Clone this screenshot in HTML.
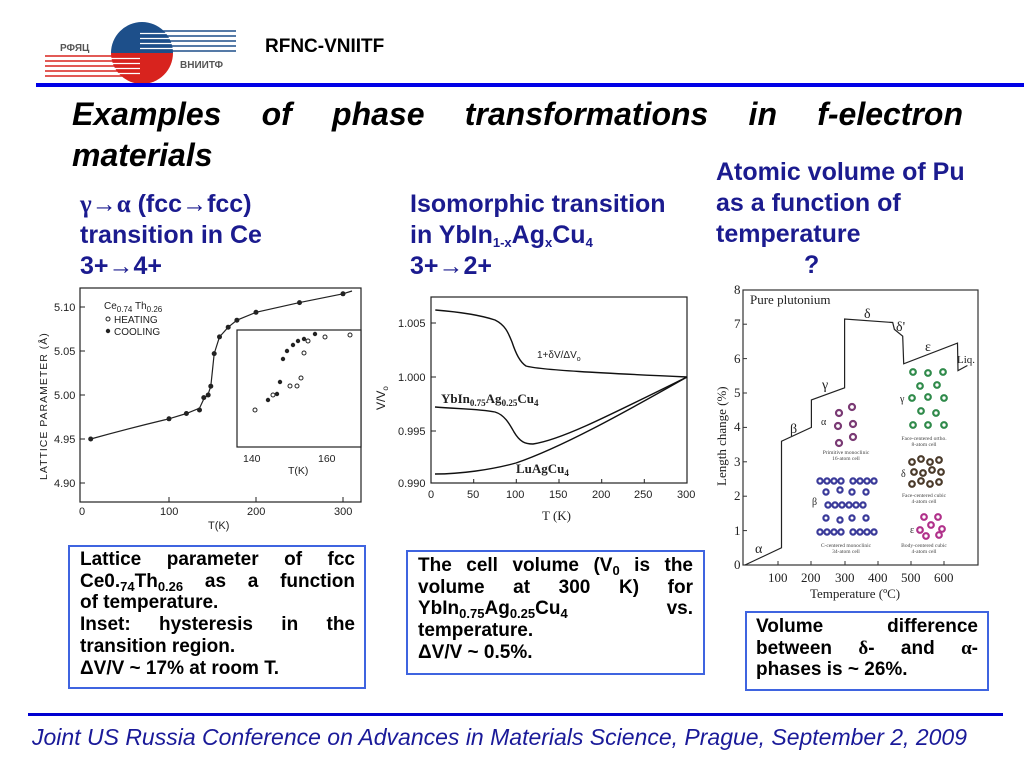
<!DOCTYPE html>
<html><head><meta charset="utf-8"><style>
body{margin:0;width:1024px;height:768px;background:#fff;position:relative;overflow:hidden;font-family:"Liberation Sans",Arial,sans-serif}
.a{position:absolute;white-space:nowrap}
.h{color:#1b1b8f;font-weight:bold;font-size:25px;line-height:31px}
.t{font-weight:bold;font-style:italic;font-size:32px;color:#000}
.box{position:absolute;border:2px solid #3f64e0;box-sizing:border-box}
.ln{font-weight:bold;font-size:19px;line-height:21.7px;color:#000;text-align:justify;text-align-last:justify;white-space:nowrap}
.ln.l{text-align-last:left}
.s{font-family:"Liberation Serif",serif}
sub{font-size:13px;vertical-align:-4px;line-height:0}
</style></head><body>
<svg width="1024" height="768" style="position:absolute;left:0;top:0" font-family="Liberation Serif,serif">
<path d="M111,53 A31,31 0 0 1 173,53 Z" fill="#1d4f8a"/>
<path d="M111,53 A31,31 0 0 0 173,53 Z" fill="#d8231e"/>
<g stroke="#1d4f8a" stroke-width="1.6"><line x1="150" y1="31" x2="236" y2="31"/><line x1="145" y1="36" x2="236" y2="36"/><line x1="145" y1="41" x2="236" y2="41"/><line x1="150" y1="46" x2="236" y2="46"/><line x1="155" y1="51" x2="236" y2="51"/></g>
<g stroke="#fff" stroke-width="1.2"><line x1="140" y1="33.5" x2="175" y2="33.5"/><line x1="140" y1="38.5" x2="175" y2="38.5"/><line x1="140" y1="43.5" x2="175" y2="43.5"/><line x1="140" y1="48.5" x2="175" y2="48.5"/></g>
<g stroke="#d8231e" stroke-width="1.6"><line x1="45" y1="56" x2="130" y2="56"/><line x1="45" y1="61" x2="138" y2="61"/><line x1="45" y1="66" x2="138" y2="66"/><line x1="45" y1="71" x2="133" y2="71"/><line x1="45" y1="76" x2="128" y2="76"/></g>
<g stroke="#fff" stroke-width="1.2"><line x1="110" y1="58.5" x2="140" y2="58.5"/><line x1="110" y1="63.5" x2="140" y2="63.5"/><line x1="110" y1="68.5" x2="140" y2="68.5"/><line x1="110" y1="73.5" x2="140" y2="73.5"/></g>
<text x="60" y="51" font-family="Liberation Sans" font-weight="bold" font-size="10" fill="#555">РФЯЦ</text>
<text x="180" y="68" font-family="Liberation Sans" font-weight="bold" font-size="10" fill="#555">ВНИИТФ</text>
<rect x="36" y="83" width="988" height="4" fill="#0000e6"/>
<rect x="28" y="713" width="975" height="3" fill="#0000d0"/>

<g font-family="Liberation Sans" fill="#222" font-size="11">
<rect x="80" y="288" width="281" height="214" fill="none" stroke="#222" stroke-width="1.2"/>
<g stroke="#222"><line x1="80" y1="307" x2="85" y2="307"/><line x1="80" y1="351" x2="85" y2="351"/><line x1="80" y1="395" x2="85" y2="395"/><line x1="80" y1="439" x2="85" y2="439"/><line x1="80" y1="483" x2="85" y2="483"/>
<line x1="169" y1="502" x2="169" y2="497"/><line x1="256" y1="502" x2="256" y2="497"/><line x1="343" y1="502" x2="343" y2="497"/></g>
<text x="54" y="311">5.10</text><text x="54" y="355">5.05</text><text x="54" y="399">5.00</text><text x="54" y="443">4.95</text><text x="54" y="487">4.90</text>
<text x="79" y="515">0</text><text x="160" y="515">100</text><text x="247" y="515">200</text><text x="334" y="515">300</text>
<text x="208" y="529">T(K)</text>
<text transform="translate(47,480) rotate(-90)" font-size="10.5" letter-spacing="1">LATTICE  PARAMETER (Å)</text>
<text x="104" y="309" font-size="10">Ce<tspan font-size="8" dy="3">0.74</tspan><tspan dy="-3"> Th</tspan><tspan font-size="8" dy="3">0.26</tspan></text>
<circle cx="108" cy="319" r="2" fill="none" stroke="#222"/><text x="114" y="323" font-size="10">HEATING</text>
<circle cx="108" cy="331" r="2.2"/><text x="114" y="335" font-size="10">COOLING</text>
<path d="M90.7,439 C130,428 160,421 169,418.8 L186.4,413.5 L199.5,408.2 L203.8,399 L208.2,394 L210.8,386.2 L212.5,370 L214.2,353.6 L219.5,336.9 L228.2,327.2 L236.9,320.2 L256,312.3 L299.5,302.6 L343,293.8 L352,291" fill="none" stroke="#222" stroke-width="1.2"/>
<g><circle cx="90.7" cy="439" r="2.5"/><circle cx="169" cy="418.8" r="2.5"/><circle cx="186.4" cy="413.5" r="2.5"/><circle cx="199.5" cy="410" r="2.5"/><circle cx="203.8" cy="397.6" r="2.5"/><circle cx="208.2" cy="395" r="2.5"/><circle cx="210.8" cy="386.2" r="2.5"/><circle cx="214.2" cy="353.6" r="2.5"/><circle cx="219.5" cy="336.9" r="2.5"/><circle cx="228.2" cy="327.2" r="2.5"/><circle cx="236.9" cy="320.2" r="2.5"/><circle cx="256" cy="312.3" r="2.5"/><circle cx="299.5" cy="302.6" r="2.5"/><circle cx="343" cy="293.8" r="2.5"/></g>
<rect x="237" y="330" width="124" height="117" fill="#fff" stroke="#222" stroke-width="1.2"/>
<text x="243" y="462" font-size="10.5">140</text><text x="318" y="462" font-size="10.5">160</text><text x="288" y="474" font-size="10.5">T(K)</text>
<g><circle cx="268" cy="400" r="2.2"/><circle cx="277" cy="394" r="2.2"/><circle cx="280" cy="382" r="2.2"/><circle cx="283" cy="359" r="2.2"/><circle cx="287" cy="351" r="2.2"/><circle cx="293" cy="345" r="2.2"/><circle cx="298" cy="341" r="2.2"/><circle cx="304" cy="339" r="2.2"/><circle cx="315" cy="334" r="2.2"/></g>
<g fill="none" stroke="#222"><circle cx="255" cy="410" r="2"/><circle cx="273" cy="395" r="2"/><circle cx="290" cy="386" r="2"/><circle cx="297" cy="386" r="2"/><circle cx="301" cy="378" r="2"/><circle cx="304" cy="353" r="2"/><circle cx="308" cy="341" r="2"/><circle cx="325" cy="337" r="2"/><circle cx="350" cy="335" r="2"/></g>
</g>

<g font-family="Liberation Sans" fill="#222" font-size="11">
<rect x="431" y="297" width="256" height="186" fill="none" stroke="#222" stroke-width="1.2"/>
<g stroke="#222"><line x1="431" y1="323" x2="436" y2="323"/><line x1="431" y1="377" x2="436" y2="377"/><line x1="431" y1="431" x2="436" y2="431"/>
<line x1="473.7" y1="483" x2="473.7" y2="479"/><line x1="516.3" y1="483" x2="516.3" y2="479"/><line x1="559" y1="483" x2="559" y2="479"/><line x1="601.7" y1="483" x2="601.7" y2="479"/><line x1="644.3" y1="483" x2="644.3" y2="479"/></g>
<text x="398" y="327">1.005</text><text x="398" y="381">1.000</text><text x="398" y="435">0.995</text><text x="398" y="487">0.990</text>
<text x="428" y="498">0</text><text x="467" y="498">50</text><text x="506" y="498">100</text><text x="549" y="498">150</text><text x="592" y="498">200</text><text x="634" y="498">250</text><text x="677" y="498">300</text>
<text x="542" y="520" font-family="Liberation Serif" font-size="13">T (K)</text>
<text transform="translate(385,410) rotate(-90)" font-size="12">V/V<tspan font-size="8" dy="3">o</tspan></text>
<g fill="none" stroke="#111" stroke-width="1.4">
<path d="M435.3,310 C460,312 480,315 495,320 C505,325 508,332 512,342 C516,354 520,362 526,366 C540,370 600,373 687,377"/>
<path d="M435,407 C460,409 480,409 495,412 C505,415 510,425 514,432 C520,442 525,444 533,444 C560,440 600,420 687,377"/>
<path d="M435,474 C460,474 490,470 516,463 C560,448 620,415 687,377"/>
</g>
<text x="537" y="358" font-size="10">1+δV/ΔV<tspan font-size="7" dy="3">o</tspan></text>
<text x="441" y="403" font-family="Liberation Serif" font-weight="bold" font-size="13">YbIn<tspan font-size="9" dy="3">0.75</tspan><tspan dy="-3">Ag</tspan><tspan font-size="9" dy="3">0.25</tspan><tspan dy="-3">Cu</tspan><tspan font-size="9" dy="3">4</tspan></text>
<text x="516" y="473" font-family="Liberation Serif" font-weight="bold" font-size="13">LuAgCu<tspan font-size="9" dy="3">4</tspan></text>
</g>

<g fill="#222" font-size="13">
<rect x="743" y="290" width="235" height="275" fill="none" stroke="#333" stroke-width="1.2"/>
<g stroke="#333"><line x1="743" y1="530.6" x2="747" y2="530.6"/><line x1="743" y1="496.2" x2="747" y2="496.2"/><line x1="743" y1="461.8" x2="747" y2="461.8"/><line x1="743" y1="427.4" x2="747" y2="427.4"/><line x1="743" y1="393" x2="747" y2="393"/><line x1="743" y1="358.6" x2="747" y2="358.6"/><line x1="743" y1="324.2" x2="747" y2="324.2"/>
<line x1="778" y1="565" x2="778" y2="561"/><line x1="811" y1="565" x2="811" y2="561"/><line x1="845" y1="565" x2="845" y2="561"/><line x1="878" y1="565" x2="878" y2="561"/><line x1="911" y1="565" x2="911" y2="561"/><line x1="944" y1="565" x2="944" y2="561"/></g>
<text x="734" y="569">0</text><text x="734" y="535">1</text><text x="734" y="500">2</text><text x="734" y="466">3</text><text x="734" y="431">4</text><text x="734" y="397">5</text><text x="734" y="363">6</text><text x="734" y="328">7</text><text x="734" y="294">8</text>
<text x="768" y="582">100</text><text x="801" y="582">200</text><text x="835" y="582">300</text><text x="868" y="582">400</text><text x="901" y="582">500</text><text x="934" y="582">600</text>
<text x="810" y="598">Temperature (ºC)</text>
<text transform="translate(726,486) rotate(-90)">Length change (%)</text>
<text x="750" y="304">Pure plutonium</text>
<path d="M745,565 L781.5,547.8 L781.5,441.2 L811.4,427.4 L811.4,399.9 L844.6,387.8 L844.6,319 L892.7,322.5 L894.4,329.4 L902.7,336.2 L903.7,363.8 L957.5,343.1 L958,370.6 L967.4,365.5" fill="none" stroke="#222" stroke-width="1.2"/>
<text x="755" y="553" font-size="14">α</text><text x="790" y="433" font-size="14">β</text><text x="822" y="389" font-size="14">γ</text><text x="864" y="318" font-size="14">δ</text><text x="896" y="331" font-size="14">δ'</text><text x="925" y="351" font-size="14">ε</text><text x="957" y="363" font-size="11">Liq.</text>
<g font-size="10"><text x="821" y="425">α</text><text x="812" y="505">β</text><text x="900" y="402">γ</text><text x="901" y="477">δ</text><text x="910" y="533">ε</text></g>
<g font-size="5.5" fill="#444" text-anchor="middle"><text x="846" y="454">Primitive monoclinic</text><text x="846" y="460">16-atom cell</text>
<text x="846" y="547">C-centered monoclinic</text><text x="846" y="553">34-atom cell</text>
<text x="924" y="440">Face-centered ortho.</text><text x="924" y="446">8-atom cell</text>
<text x="924" y="497">Face-centered cubic</text><text x="924" y="503">4-atom cell</text>
<text x="924" y="547">Body-centered cubic</text><text x="924" y="553">4-atom cell</text></g>
<g fill="none" stroke-width="2.2">
<g stroke="#7a3a74"><circle cx="839" cy="413" r="3"/><circle cx="852" cy="407" r="3"/><circle cx="838" cy="426" r="3"/><circle cx="853" cy="424" r="3"/><circle cx="853" cy="437" r="3"/><circle cx="839" cy="443" r="3"/></g>
<g stroke="#3b3b9a"><circle cx="820" cy="481" r="2.6"/><circle cx="827" cy="481" r="2.6"/><circle cx="834" cy="481" r="2.6"/><circle cx="841" cy="481" r="2.6"/><circle cx="853" cy="481" r="2.6"/><circle cx="860" cy="481" r="2.6"/><circle cx="867" cy="481" r="2.6"/><circle cx="874" cy="481" r="2.6"/>
<circle cx="826" cy="492" r="2.6"/><circle cx="840" cy="490" r="2.6"/><circle cx="852" cy="492" r="2.6"/><circle cx="866" cy="492" r="2.6"/>
<circle cx="828" cy="505" r="2.6"/><circle cx="835" cy="505" r="2.6"/><circle cx="842" cy="505" r="2.6"/><circle cx="849" cy="505" r="2.6"/><circle cx="856" cy="505" r="2.6"/><circle cx="863" cy="505" r="2.6"/>
<circle cx="826" cy="518" r="2.6"/><circle cx="840" cy="520" r="2.6"/><circle cx="852" cy="518" r="2.6"/><circle cx="866" cy="518" r="2.6"/>
<circle cx="820" cy="532" r="2.6"/><circle cx="827" cy="532" r="2.6"/><circle cx="834" cy="532" r="2.6"/><circle cx="841" cy="532" r="2.6"/><circle cx="853" cy="532" r="2.6"/><circle cx="860" cy="532" r="2.6"/><circle cx="867" cy="532" r="2.6"/><circle cx="874" cy="532" r="2.6"/></g>
<g stroke="#2f8a4a"><circle cx="913" cy="372" r="2.8"/><circle cx="928" cy="373" r="2.8"/><circle cx="943" cy="372" r="2.8"/><circle cx="920" cy="386" r="2.8"/><circle cx="937" cy="385" r="2.8"/><circle cx="912" cy="398" r="2.8"/><circle cx="928" cy="397" r="2.8"/><circle cx="944" cy="398" r="2.8"/><circle cx="921" cy="411" r="2.8"/><circle cx="936" cy="413" r="2.8"/><circle cx="913" cy="425" r="2.8"/><circle cx="928" cy="425" r="2.8"/><circle cx="944" cy="425" r="2.8"/></g>
<g stroke="#4a3a2a"><circle cx="912" cy="462" r="2.8"/><circle cx="921" cy="459" r="2.8"/><circle cx="930" cy="462" r="2.8"/><circle cx="939" cy="460" r="2.8"/><circle cx="914" cy="472" r="2.8"/><circle cx="923" cy="473" r="2.8"/><circle cx="932" cy="470" r="2.8"/><circle cx="941" cy="472" r="2.8"/><circle cx="912" cy="484" r="2.8"/><circle cx="921" cy="481" r="2.8"/><circle cx="930" cy="484" r="2.8"/><circle cx="939" cy="482" r="2.8"/></g>
<g stroke="#b0308a"><circle cx="924" cy="517" r="2.8"/><circle cx="938" cy="517" r="2.8"/><circle cx="931" cy="525" r="2.8"/><circle cx="920" cy="530" r="2.8"/><circle cx="942" cy="529" r="2.8"/><circle cx="926" cy="536" r="2.8"/><circle cx="939" cy="535" r="2.8"/></g>
</g>
</g>
</svg>

<div class="a" style="left:265px;top:36px;font-weight:bold;font-size:19px">RFNC-VNIITF</div>
<div class="a t" style="left:72px;top:96px;width:891px;text-align:justify;text-align-last:justify">Examples of phase transformations in f-electron</div>
<div class="a t" style="left:72px;top:137px">materials</div>

<div class="a h" style="left:80px;top:189px"><span class="s">γ→α</span> (fcc<span class="s">→</span>fcc)<br>transition in Ce<br>3+<span class="s">→</span>4+</div>
<div class="a h" style="left:410px;top:189px">Isomorphic transition<br>in YbIn<sub>1-x</sub>Ag<sub>x</sub>Cu<sub>4</sub><br>3+<span class="s">→</span>2+</div>
<div class="a h" style="left:716px;top:157px">Atomic volume of Pu<br>as a function of<br>temperature<br><span style="margin-left:88px">?</span></div>

<div class="box" style="left:68px;top:545px;width:298px;height:144px"></div>
<div class="a" style="left:80px;top:549px;width:275px">
<div class="ln">Lattice parameter of fcc</div>
<div class="ln">Ce0.<sub>74</sub>Th<sub>0.26</sub> as a function</div>
<div class="ln l">of temperature.</div>
<div class="ln">Inset: hysteresis in the</div>
<div class="ln l">transition region.</div>
<div class="ln l">ΔV/V ~ 17% at room T.</div>
</div>

<div class="box" style="left:406px;top:550px;width:299px;height:125px"></div>
<div class="a" style="left:418px;top:555px;width:275px">
<div class="ln">The cell volume (V<sub>0</sub> is the</div>
<div class="ln">volume at 300 K) for</div>
<div class="ln">YbIn<sub>0.75</sub>Ag<sub>0.25</sub>Cu<sub>4</sub> vs.</div>
<div class="ln l">temperature.</div>
<div class="ln l">ΔV/V ~ 0.5%.</div>
</div>

<div class="box" style="left:745px;top:611px;width:244px;height:80px"></div>
<div class="a" style="left:756px;top:616px;width:222px">
<div class="ln">Volume difference</div>
<div class="ln">between <span class="s">δ</span>- and <span class="s">α</span>-</div>
<div class="ln l">phases is ~ 26%.</div>
</div>

<div class="a" style="left:32px;top:724px;font-style:italic;font-size:23px;color:#1a1a99">Joint US Russia Conference on Advances in Materials Science, Prague, September 2, 2009</div>
</body></html>
